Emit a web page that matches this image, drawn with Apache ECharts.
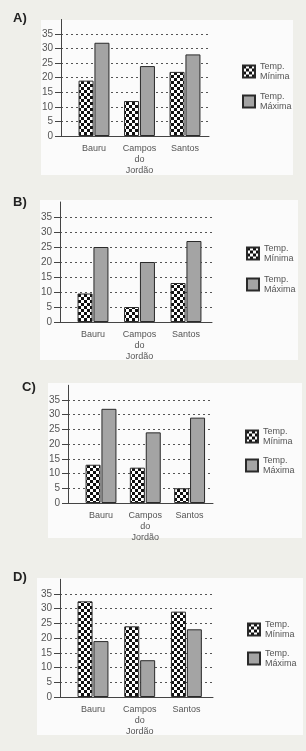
<!DOCTYPE html>
<html>
<head>
<meta charset="utf-8">
<script src="https://cdn.jsdelivr.net/npm/echarts@6/dist/echarts.min.js"></script>
<style>
  body { margin: 0; background: #efefea; }
  #wrap { position: relative; width: 306px; height: 751px; overflow: hidden; }
  .box { position: absolute; background: #fbfbfb; }
  #chart { position: absolute; left: 0; top: 0; width: 306px; height: 751px; }
</style>
</head>
<body>
<div id="wrap">
  <div class="box" style="left:41px;top:20px;width:252px;height:155px"></div>
  <div class="box" style="left:40px;top:200px;width:258px;height:160px"></div>
  <div class="box" style="left:48px;top:383px;width:254px;height:155px"></div>
  <div class="box" style="left:37px;top:578px;width:266px;height:157px"></div>
  <div id="chart"></div>
</div>
<script>
// dados
const categories = ['Bauru', 'Campos\ndo\nJordão', 'Santos'];
const seriesNames = ['Temp. Mínima', 'Temp. Máxima'];
const panelLabels = ['A)', 'B)', 'C)', 'D)'];
const minA = [19, 12, 22];
const maxA = [32, 24, 28];
const minB = [9.5, 5, 13];
const maxB = [25, 20, 27];
const minC = [13, 12, 5];
const maxC = [32, 24, 29];
const minD = [32.5, 24, 29];
const maxD = [19, 12.5, 23];

const panelData = [[minA, maxA], [minB, maxB], [minC, maxC], [minD, maxD]];

// posicao de cada painel na pagina
const layout = [
  { axisX: 61, zero: 136, k: 2.914, right: 209, step: 45.5, lgLeft: 237, lgTop: 56, lgGap: 9, tLeft: 13, tTop: 12 },
  { axisX: 60, zero: 322, k: 3.0, right: 212, step: 46.5, lgLeft: 241, lgTop: 238, lgGap: 10, tLeft: 13, tTop: 196 },
  { axisX: 68, zero: 503, k: 2.943, right: 213, step: 44.3, lgLeft: 240, lgTop: 421, lgGap: 8, tLeft: 22, tTop: 381 },
  { axisX: 60, zero: 697, k: 2.943, right: 213, step: 46.7, lgLeft: 242, lgTop: 614, lgGap: 8, tLeft: 13, tTop: 571 }
];

// padrao xadrez
var cv = document.createElement('canvas');
cv.width = 6; cv.height = 6;
var ctx = cv.getContext('2d');
ctx.fillStyle = '#ffffff';
ctx.fillRect(0, 0, 6, 6);
ctx.fillStyle = '#111111';
ctx.fillRect(0, 0, 3, 3);
ctx.fillRect(3, 3, 3, 3);
var checker = { image: cv, repeat: 'repeat' };

var textColor = '#555';
var lineColor = '#444';
var font = 'Liberation Sans, Arial, sans-serif';

var grid = [], xAxis = [], yAxis = [], series = [], legend = [], title = [];

layout.forEach(function (p, i) {
  var barLeft = p.axisX + 33 - p.step / 2;
  // grade com eixos e linhas pontilhadas
  grid.push({ left: p.axisX, top: p.zero - 35 * p.k, width: p.right - p.axisX, height: 35 * p.k });
  // grade das barras
  grid.push({ left: barLeft, top: p.zero - 40 * p.k, width: p.step * 3, height: 40 * p.k });

  xAxis.push({
    type: 'category', gridIndex: i * 2, data: categories,
    axisLine: { lineStyle: { color: lineColor, width: 1 } },
    axisTick: { show: false }, axisLabel: { show: false }
  });
  xAxis.push({
    type: 'category', gridIndex: i * 2 + 1, data: categories,
    axisLine: { show: false }, axisTick: { show: false },
    axisLabel: { color: textColor, fontSize: 9, fontFamily: font, lineHeight: 11, margin: 7, interval: 0 }
  });
  yAxis.push({
    type: 'value', gridIndex: i * 2, min: 0, max: 35, interval: 5,
    axisLine: { show: true, lineStyle: { color: lineColor, width: 1 } },
    axisTick: { show: true, length: 6, lineStyle: { color: lineColor } },
    axisLabel: { color: textColor, fontSize: 10, fontFamily: font, margin: 8 },
    splitLine: { show: true, showMinLine: false, lineStyle: { color: '#555', type: [2, 3], width: 1 } }
  });
  yAxis.push({
    type: 'value', gridIndex: i * 2 + 1, min: 0, max: 40, interval: 5,
    offset: barLeft - p.axisX,
    axisLine: { show: true, lineStyle: { color: lineColor, width: 1 } },
    axisTick: { show: false }, axisLabel: { show: false }, splitLine: { show: false }
  });

  var d = panelData[i];
  series.push({
    name: seriesNames[0], type: 'bar', xAxisIndex: i * 2 + 1, yAxisIndex: i * 2 + 1,
    data: d[0], barWidth: 15, barGap: '6%',
    itemStyle: { color: checker, borderColor: '#2a2a2a', borderWidth: 1 }
  });
  series.push({
    name: seriesNames[1], type: 'bar', xAxisIndex: i * 2 + 1, yAxisIndex: i * 2 + 1,
    data: d[1], barWidth: 15, barGap: '6%',
    itemStyle: { color: '#a4a4a4', borderColor: '#2a2a2a', borderWidth: 1 }
  });

  legend.push({
    orient: 'vertical', left: p.lgLeft, top: p.lgTop, itemGap: p.lgGap,
    itemWidth: 12, itemHeight: 12, icon: 'rect', selectedMode: false,
    data: seriesNames,
    formatter: function (name) { return name.replace(' ', '\n'); },
    textStyle: { color: textColor, fontSize: 9, fontFamily: font, lineHeight: 10.5 }
  });

  title.push({
    text: panelLabels[i], left: p.tLeft, top: p.tTop, padding: 0,
    textStyle: { color: '#222', fontSize: 13, fontWeight: 'bold', fontFamily: font }
  });
});

var myChart = echarts.init(document.getElementById('chart'), null, { renderer: 'canvas' });
myChart.setOption({
  animation: false,
  title: title,
  legend: legend,
  grid: grid,
  xAxis: xAxis,
  yAxis: yAxis,
  series: series
});
</script>
</body>
</html>
